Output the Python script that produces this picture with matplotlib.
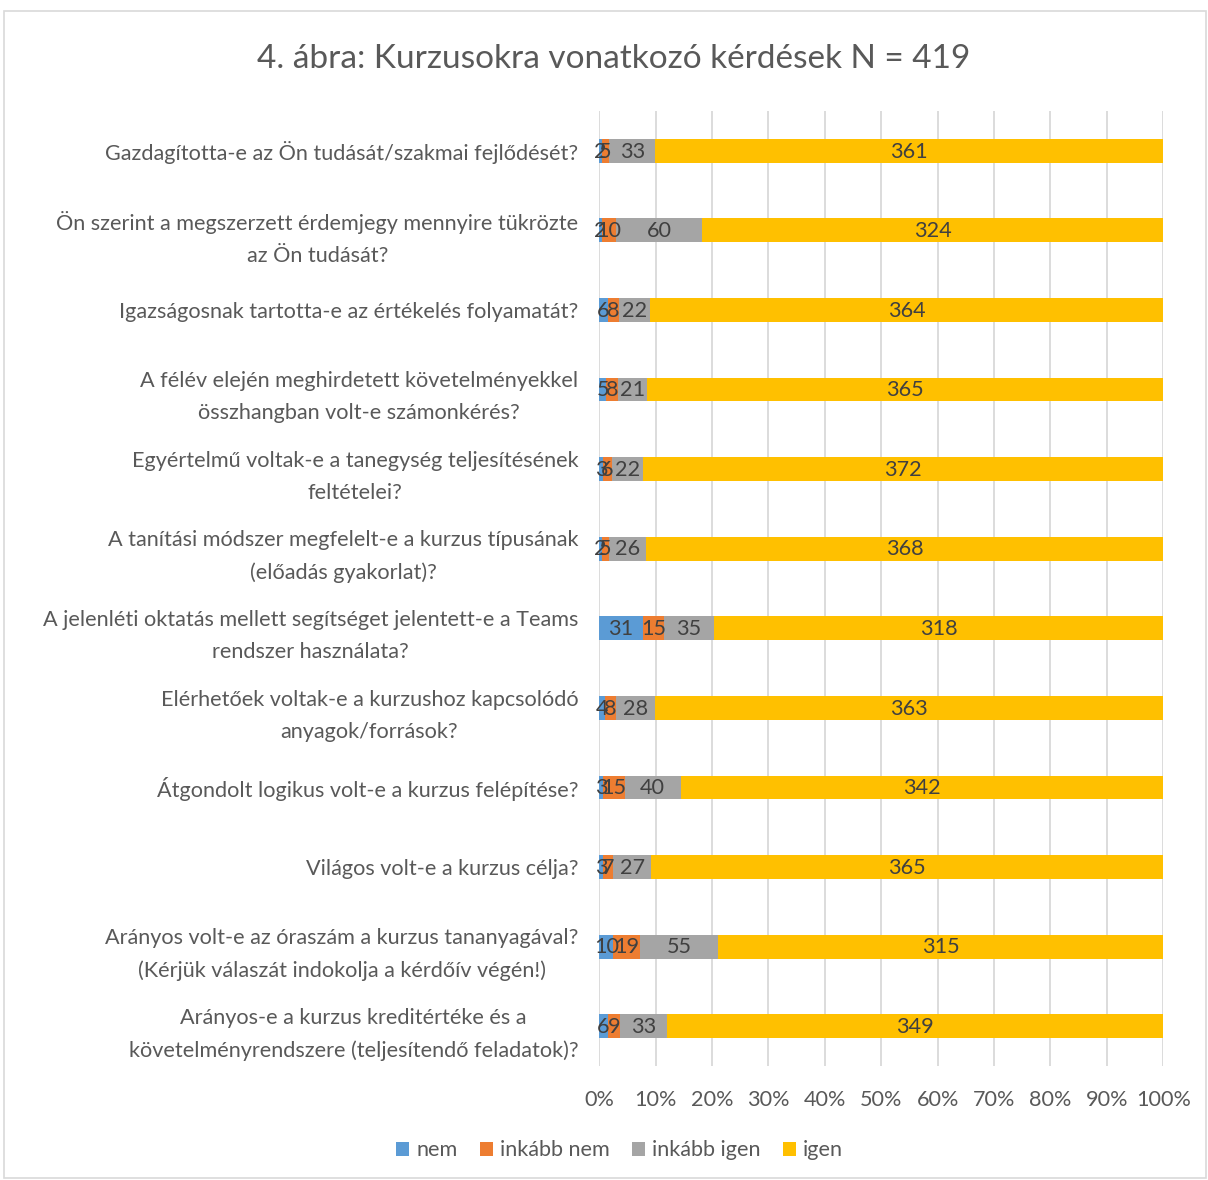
import numpy as np
import matplotlib.pyplot as plt
from matplotlib.patches import Rectangle

plt.rcParams['font.family'] = ['Lato', 'DejaVu Sans']

questions = [
    "Gazdagította-e az Ön tudását/szakmai fejlődését?",
    "Ön szerint a megszerzett érdemjegy mennyire tükrözte\naz Ön tudását?",
    "Igazságosnak tartotta-e az értékelés folyamatát?",
    "A félév elején meghirdetett követelményekkel\nösszhangban volt-e számonkérés?",
    "Egyértelmű voltak-e a tanegység teljesítésének\nfeltételei?",
    "A tanítási módszer megfelelt-e a kurzus típusának\n(előadás gyakorlat)?",
    "A jelenléti oktatás mellett segítséget jelentett-e a Teams\nrendszer használata?",
    "Elérhetőek voltak-e a kurzushoz kapcsolódó\nanyagok/források?",
    "Átgondolt logikus volt-e a kurzus felépítése?",
    "Világos volt-e a kurzus célja?",
    "Arányos volt-e az óraszám a kurzus tananyagával?\n(Kérjük válaszát indokolja a kérdőív végén!)",
    "Arányos-e a kurzus kreditértéke és a\nkövetelményrendszere (teljesítendő feladatok)?",
]
nem = [2, 2, 6, 5, 3, 2, 31, 4, 3, 3, 10, 6]
inkabb_nem = [5, 10, 8, 8, 6, 5, 15, 8, 15, 7, 19, 9]
inkabb_igen = [33, 60, 22, 21, 22, 26, 35, 28, 40, 27, 55, 33]
igen = [361, 324, 364, 365, 372, 368, 318, 363, 342, 365, 315, 349]

series = ["nem", "inkább nem", "inkább igen", "igen"]
colors = ["#5B9BD5", "#ED7D31", "#A5A5A5", "#FFC000"]

data = np.array([nem, inkabb_nem, inkabb_igen, igen], dtype=float)
totals = data.sum(axis=0)
pct = data / totals

fs = 15.6

fig = plt.figure(figsize=(12.08, 11.8), dpi=100)
fig.patches.append(Rectangle((0.003, 0.002), 0.995, 0.989,
                             transform=fig.transFigure, fill=False,
                             edgecolor="#D9D9D9", linewidth=1.2))
ax = fig.add_axes([0.496, 0.0966, 0.467, 0.8094])

y = np.arange(len(questions))
left = np.zeros(len(questions))
for i, (name, col) in enumerate(zip(series, colors)):
    ax.barh(y, pct[i], left=left, height=0.3, color=col, label=name, zorder=2)
    for j in range(len(questions)):
        ax.text(left[j] + pct[i][j] / 2, y[j] + 0.01, str(int(data[i][j])),
                ha="center", va="center", fontsize=fs, color="#404040", zorder=3)
    left += pct[i]

ax.set_ylim(len(questions) - 0.5, -0.5)
ax.set_xlim(0, 1)
ax.set_xticks(np.linspace(0, 1, 11))
ax.set_xticklabels([f"{int(v)}%" for v in np.arange(0, 101, 10)],
                   fontsize=fs, color="#595959")
ax.set_yticks(y)
ax.set_yticklabels(questions, fontsize=fs, color="#595959", linespacing=1.75)
ax.tick_params(axis="both", length=0)
ax.tick_params(axis="x", pad=17)
ax.tick_params(axis="y", pad=15)
for lab in ax.get_yticklabels():
    lab.set_horizontalalignment("right")
    lab.set_multialignment("center")
ax.grid(axis="x", color="#D9D9D9", linewidth=1.3, zorder=0)
for s in ax.spines.values():
    s.set_visible(False)

fig.text(0.508, 0.950, "4. ábra: Kurzusokra vonatkozó kérdések N = 419",
         ha="center", va="center", fontsize=24, color="#595959")

fig.legend(loc="center", bbox_to_anchor=(0.513, 0.025), ncol=4, frameon=False,
           fontsize=fs, handlelength=0.6, handleheight=0.6,
           handletextpad=0.35, columnspacing=1.0, labelcolor="#595959")

fig.savefig("out.png", dpi=100)
